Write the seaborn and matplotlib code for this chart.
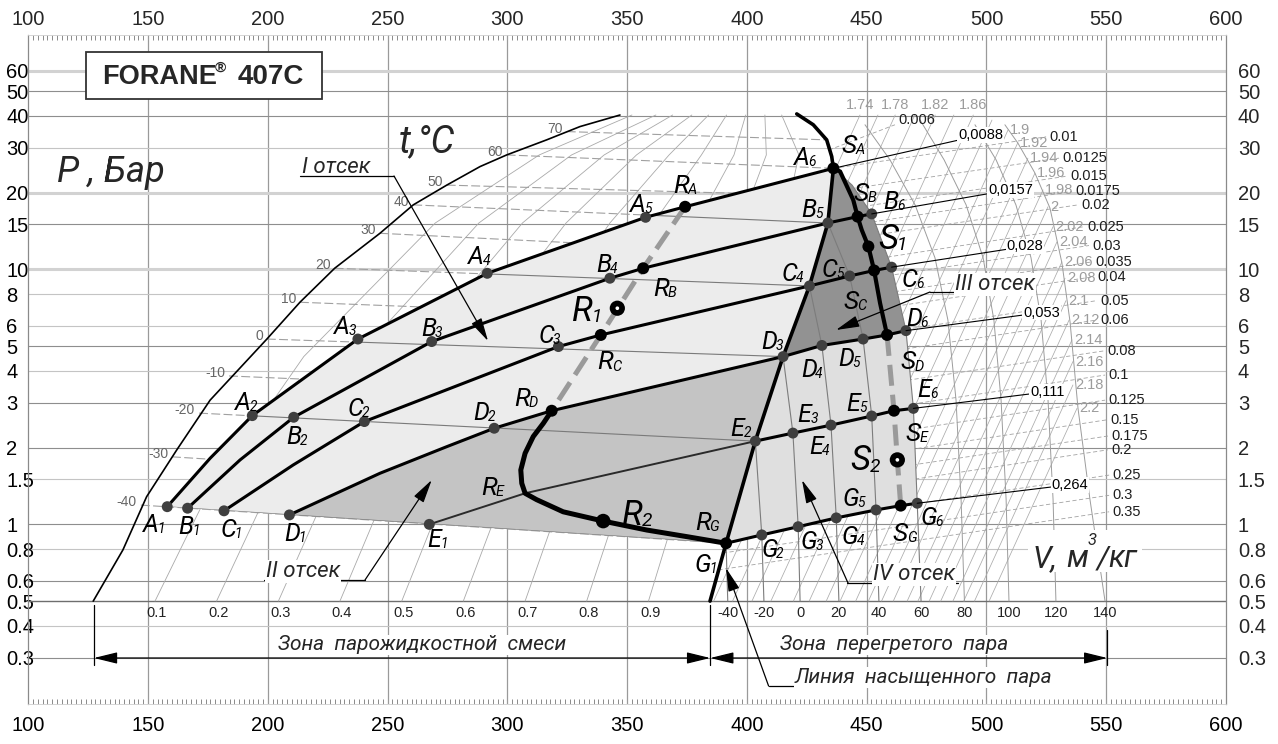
import matplotlib
matplotlib.use("Agg")
import matplotlib.pyplot as plt
import matplotlib.font_manager as fm
from matplotlib.font_manager import FontProperties
from matplotlib.lines import Line2D
from matplotlib.patches import Rectangle
from matplotlib.ticker import MultipleLocator, NullLocator
import seaborn as sns

# ---------------- data: enthalpy h (kJ/kg) and pressure P (bar) ----------------
P_TICKS = [0.3, 0.4, 0.5, 0.6, 0.8, 1, 1.5, 2, 3, 4, 5, 6, 8, 10, 15, 20, 30, 40, 50, 60]
P_TICK_LABELS = ["0.3", "0.4", "0.5", "0.6", "0.8", "1", "1.5", "2", "3", "4", "5", "6", "8",
                 "10", "15", "20", "30", "40", "50", "60"]
H_TICKS = [100, 150, 200, 250, 300, 350, 400, 450, 500, 550, 600]

# saturated liquid / saturated vapour lines
LIQ_H = [127.1, 139.5, 149.4, 162.0, 175.9, 199.6, 213.4, 227.9, 246.8, 260.7, 274.7, 288.6,
         299.7, 316.4, 330.3, 347.0]
LIQ_P = [0.5, 0.794, 1.284, 1.96, 3.07, 5.33, 7.43, 10.1, 13.85, 17.9, 21.4, 25.3, 28.1, 32.2,
         36.3, 40.3]
VAP_H = [384.6, 391.3, 403.5, 415.1, 426.1, 433.8, 436.1, 435.4, 433.3, 427.7, 420.8]
VAP_P = [0.5, 0.843, 2.12, 4.55, 8.61, 15.2, 24.9, 27.7, 32.2, 36.9, 40.7]

# working lines A..G
A_H = [158.0, 175.9, 193.5, 237.6, 291.6, 357.7, 374.2, 436.1]
A_P = [1.173, 1.816, 2.669, 5.33, 9.65, 16.0, 17.6, 24.9]
B_H = [166.5, 188.4, 210.8, 268.4, 342.8, 356.7, 433.8, 446.2, 452.1]
B_P = [1.157, 1.789, 2.63, 5.21, 9.23, 10.1, 15.2, 16.1, 16.5]
C_H = [181.7, 210.6, 240.3, 321.3, 339.0, 426.1, 442.9, 453.1, 460.4]
C_P = [1.13, 1.71, 2.53, 4.98, 5.53, 8.61, 9.42, 9.90, 10.2]
D_H = [209.0, 246.8, 274.7, 294.5, 318.5, 415.1, 431.3, 448.5, 458.5, 466.4]
D_P = [1.089, 1.586, 2.017, 2.382, 2.79, 4.55, 5.03, 5.33, 5.53, 5.75]
E_H = [267.4, 307.4, 403.5, 419.2, 435.1, 452.1, 461.4, 469.5]
E_P = [1.0, 1.324, 2.12, 2.28, 2.45, 2.66, 2.79, 2.85]
G_H = [391.3, 406.2, 421.4, 437.3, 453.9, 464.2, 471.1]
G_P = [0.843, 0.909, 0.979, 1.06, 1.139, 1.184, 1.21]

# R and S process paths
R_DASH_H = [374.2, 356.7, 339.0, 318.5]
R_DASH_P = [17.6, 10.1, 5.53, 2.79]
R_LINE_H = [318.5, 315.0, 310.8, 307.4, 305.6, 306.0, 307.4, 312.2, 323.3, 340.0, 358.2, 374.9, 391.3]
R_LINE_P = [2.79, 2.49, 2.21, 1.90, 1.634, 1.449, 1.324, 1.25, 1.12, 1.03, 0.95, 0.895, 0.843]
S_LINE_H = [436.1, 438.9, 444.4, 446.2, 447.9, 450.7, 453.1, 455.6, 458.5]
S_LINE_P = [24.9, 24.2, 18.7, 16.1, 14.3, 12.3, 9.90, 7.36, 5.53]
S_DASH_H = [458.5, 461.4, 462.8, 464.2]
S_DASH_P = [5.53, 2.79, 1.79, 1.184]
R1 = (345.9, 7.04)
R2 = (340.0, 1.03)
S2 = (462.8, 1.79)

# isotherms in the two-phase zone (liquid end -> vapour end)
WET_T = [-40, -30, -20, -10, 0, 10, 20, 30, 40, 50, 60, 70]
WET_LIQ_H = [147.0, 160.0, 171.3, 183.8, 199.6, 213.4, 227.9, 246.8, 260.7, 274.7, 299.7, 324.8]
WET_LIQ_P = [1.19, 1.84, 2.73, 3.82, 5.33, 7.43, 10.1, 13.85, 17.9, 21.4, 28.1, 34.7]
WET_VAP_H = [391.3, 397.5, 403.5, 409.5, 415.1, 420.5, 426.1, 430.0, 433.8, 435.0, 436.1, 433.3]
WET_VAP_P = [0.843, 1.33, 2.12, 3.09, 4.55, 6.25, 8.61, 11.4, 15.2, 19.4, 24.9, 32.2]

# isotherms in the superheated zone
T_M40_H = [391.3, 392.0]
T_M40_P = [0.843, 0.5]
T_M20_H = [403.5, 406.2, 407.1]
T_M20_P = [2.12, 0.909, 0.5]
T_0_H = [415.1, 419.2, 421.4, 422.2]
T_0_P = [4.55, 2.28, 0.979, 0.5]
T_20_H = [426.1, 431.3, 435.1, 437.3, 438.4]
T_20_P = [8.61, 5.03, 2.45, 1.06, 0.5]
T_40_H = [433.8, 442.9, 448.5, 452.1, 453.9, 455.1]
T_40_P = [15.2, 9.42, 5.33, 2.66, 1.139, 0.5]
T_60_H = [436.1, 443.9, 452.1, 460.4, 466.4, 469.5, 471.1, 472.7]
T_60_P = [24.9, 21.4, 16.5, 10.2, 5.75, 2.85, 1.21, 0.5]
T_80_H = [490.8, 489.4, 487.3, 483.9, 478.5, 470.2, 459.7, 449.3]
T_80_P = [0.5, 1.254, 3.07, 6.33, 11.1, 17.9, 26.9, 36.9]
T_100_H = [509.4, 508.2, 506.1, 503.1, 498.6, 491.5, 482.3, 472.3]
T_100_P = [0.5, 1.254, 3.07, 6.33, 11.1, 17.9, 26.9, 38.5]
T_120_H = [529.0, 527.8, 525.7, 522.8, 518.6, 512.3, 504.0, 495.2]
T_120_P = [0.5, 1.254, 3.07, 6.33, 11.1, 17.9, 26.9, 36.9]
T_140_H = [549.5, 543.2, 538.2, 534.9, 531.5, 526.5, 520.2, 513.1, 507.7]
T_140_P = [0.5, 1.254, 2.86, 6.22, 10.6, 17.4, 23.9, 31.3, 36.9]

# vapour quality lines, h read at six pressure levels
QUALITY = ["0.1", "0.2", "0.3", "0.4", "0.5", "0.6", "0.7", "0.8", "0.9"]
Q_P = [0.5, 1.28, 4.55, 15.2, 28.1, 40.3]
Q_H_05 = [152.9, 178.6, 204.4, 230.1, 255.9, 281.6, 307.4, 333.1, 358.9]
Q_H_128 = [174.2, 198.9, 223.7, 248.4, 273.2, 298.0, 322.7, 347.5, 372.2]
Q_H_455 = [215.0, 237.3, 259.5, 281.7, 304.0, 326.2, 348.4, 370.6, 392.9]
Q_H_152 = [269.9, 288.1, 306.3, 324.5, 342.8, 361.0, 379.2, 397.4, 415.6]
Q_H_281 = [313.3, 326.8, 340.4, 353.9, 367.5, 381.0, 394.6, 408.1, 421.7]
Q_H_403 = [352.0, 362.0, 369.0, 377.0, 384.0, 391.5, 399.5, 407.5, 414.5]

# entropy lines (kJ/kg K), lower and upper ends
S_TXT = ["1.74", "", "1.78", "", "1.82", "", "1.86", "", "1.9", "1.92", "1.94", "1.96", "1.98",
         "2", "2.02", "2.04", "2.06", "2.08", "2.1", "2.12", "2.14", "2.16", "2.18", "2.2"]
S_LO_H = [435.8, 433.0, 413.1, 395.4, 386.1, 394.0, 402.1, 410.0, 419.4, 426.0, 433.1, 438.9,
          445.4, 450.7, 456.2, 461.1, 466.9, 471.4, 476.1, 480.9, 486.0, 490.5, 495.0, 501.1]
S_LO_P = [23.4, 14.3, 3.96, 1.16, 0.5, 0.5, 0.5, 0.5, 0.5, 0.5, 0.5, 0.5,
          0.5, 0.5, 0.5, 0.5, 0.5, 0.5, 0.5, 0.5, 0.5, 0.5, 0.5, 0.5]
S_HI_H = [447.2, 454.7, 461.9, 470.1, 478.6, 486.4, 494.5, 502.3, 509.0, 513.1, 517.3, 520.2,
          523.6, 525.7, 527.8, 529.4, 531.5, 532.8, 533.2, 534.5, 535.7, 536.1, 536.1, 537.8]
S_HI_P = [40.3, 40.3, 40.3, 40.3, 40.3, 40.3, 40.3, 38.5, 35.2, 31.4, 27.3, 23.8,
          20.5, 17.6, 14.7, 12.8, 10.7, 9.23, 7.54, 6.33, 5.29, 4.35, 3.52, 2.85]

# specific volume lines (m3/kg) in the superheated zone
V_TXT = ["0.006", "0.01", "0.0125", "0.015", "0.0175", "0.02", "0.025", "0.03", "0.035", "0.04",
         "0.05", "0.06", "0.08", "0.1", "0.125", "0.15", "0.175", "0.2", "0.25", "0.3", "0.35"]
V_LO_H = [434.3, 436.1, 435.5, 434.9, 433.2, 431.3, 428.4, 425.9, 423.2, 420.9, 416.9, 414.0,
          409.4, 405.7, 402.3, 399.6, 397.6, 395.9, 392.6, 390.0, 388.1]
V_LO_P = [29.4, 24.9, 20.2, 16.9, 14.4, 12.7, 10.1, 8.49, 7.21, 6.28, 4.96, 4.11, 3.05, 2.41,
          1.90, 1.57, 1.36, 1.18, 0.939, 0.772, 0.663]
V_HI_H = [461.8, 524.9, 530.3, 533.6, 535.7, 538.2, 540.7, 542.8, 544.1, 544.9, 546.1, 546.1,
          549.1, 549.5, 549.5, 550.3, 550.7, 550.7, 551.2, 551.2, 551.2]
V_HI_P = [36.9, 33.1, 27.3, 23.2, 20.2, 17.9, 14.7, 12.4, 10.7, 9.36, 7.54, 6.33, 4.79, 3.85,
          3.07, 2.57, 2.22, 1.96, 1.56, 1.30, 1.12]
V_LEADERS = ["0,0088", "0,0157", "0,028", "0,053", "0,111", "0,264"]

# ---------------- figure ----------------
W, H = 1278, 744
sns.set_theme(style="white")
plt.rcParams["font.family"] = ["Liberation Sans", "DejaVu Sans"]


def pick_hand_font():
    # a narrow italic sans for the hand-lettered labels
    fonts = fm.fontManager.ttflist
    for want in ("Liberation Sans Narrow", "Roboto", "Liberation Sans"):
        for f in fonts:
            if f.name == want and f.style == "italic" and f.weight in (400, "normal", "regular"):
                return FontProperties(fname=f.fname)
    return FontProperties(family="DejaVu Sans", style="italic")


HK = dict(fontproperties=pick_hand_font())

fig = plt.figure(figsize=(W / 100, H / 100), dpi=100)
ax = fig.add_axes([28.3 / W, 1 - 703.7 / H, (1226 - 28.3) / W, (703.7 - 35) / H])
ax.set_yscale("log")
ax.set_xlim(100, 600)
ax.set_ylim(0.198, 83)
ax.set_facecolor("white")


def ftext(x, y, s, **kw):
    kw.setdefault("zorder", 11)
    return fig.text(x / W, 1 - y / H, s, **kw)


def fline(x1, y1, x2, y2, lw=0.9):
    fig.add_artist(Line2D([x1 / W, x2 / W], [1 - y1 / H, 1 - y2 / H], transform=fig.transFigure,
                          color="black", lw=lw, zorder=11))


def farrow(x1, y1, x2, y2, style="-|>"):
    ax.annotate("", xy=(x2, H - y2), xytext=(x1, H - y1), xycoords="figure pixels",
                textcoords="figure pixels", zorder=11, annotation_clip=False,
                arrowprops=dict(arrowstyle=style + ",head_length=0.9,head_width=0.22",
                                mutation_scale=16, lw=0.9, color="black", shrinkA=0, shrinkB=0))


# grid
for v in H_TICKS[1:-1]:
    ax.axvline(v, color="#9a9a9a", lw=0.9, zorder=0.5)
for p in P_TICKS:
    if p in (60, 20, 10):
        ax.axhline(p, color="#d2d2d2", lw=2.2, zorder=0.5)
    elif p == 0.5:
        ax.axhline(p, color="#6e6e6e", lw=1.0, zorder=0.6)
    elif p in (30, 8, 6, 4, 1.5, 0.8, 0.4):
        ax.axhline(p, color="#c4c4c4", lw=0.8, zorder=0.5)
    else:
        ax.axhline(p, color="#8e8e8e", lw=0.8, zorder=0.5)

# ---------------- background mesh ----------------
q_levels = [Q_H_05, Q_H_128, Q_H_455, Q_H_152, Q_H_281, Q_H_403]
for i, q in enumerate(QUALITY):
    ax.plot([lvl[i] for lvl in q_levels], Q_P, color="#a9a9a9", lw=0.6, zorder=1)
    ax.annotate(q, (Q_H_05[i], 0.5), xytext=(2, -12), textcoords="offset pixels", ha="center",
                va="center", fontsize=10.5, color="#222222", zorder=8)

for i, s in enumerate(S_TXT):
    ax.plot([S_LO_H[i], S_HI_H[i]], [S_LO_P[i], S_HI_P[i]], color="#ababab", lw=0.55, zorder=1)
    if not s:
        continue
    if i < 8:
        ax.annotate(s, (S_HI_H[i], S_HI_P[i]), xytext=(0, 10), textcoords="offset pixels",
                    ha="center", va="center", fontsize=10.5, color="#9c9c9c", zorder=8)
    else:
        ax.annotate(s, (S_HI_H[i], S_HI_P[i]), xytext=(2, 0), textcoords="offset pixels",
                    ha="left", va="center", fontsize=10.5, color="#9c9c9c", zorder=8)

for i, v in enumerate(V_TXT):
    ln, = ax.plot([V_LO_H[i], V_HI_H[i]], [V_LO_P[i], V_HI_P[i]], color="#a2a2a2", lw=0.6, zorder=1)
    ln.set_dashes((5, 3))
    off = (3, 5) if i == 0 else (3, 0)
    ax.annotate(v, (V_HI_H[i], V_HI_P[i]), xytext=off, textcoords="offset pixels", ha="left",
                va="center", fontsize=10.5, color="#1e1e1e", zorder=8)

for th, tp in [(T_80_H, T_80_P), (T_100_H, T_100_P), (T_120_H, T_120_P), (T_140_H, T_140_P)]:
    ax.plot(th, tp, color="#9c9c9c", lw=0.7, zorder=1)

for i, t in enumerate(WET_T):
    ln, = ax.plot([WET_LIQ_H[i], WET_VAP_H[i]], [WET_LIQ_P[i], WET_VAP_P[i]], color="#a0a0a0",
                  lw=0.8, zorder=1)
    ln.set_dashes((8, 3))
    ax.annotate(str(t), (WET_LIQ_H[i], WET_LIQ_P[i]), xytext=(-4, 3), textcoords="offset pixels",
                ha="right", va="center", fontsize=10, color="#666666", zorder=8)

# ---------------- compartments ----------------
reg1_h = A_H + [VAP_H[5], VAP_H[4]] + D_H[5::-1]
reg1_p = A_P + [VAP_P[5], VAP_P[4]] + D_P[5::-1]
reg2_h = D_H[0:6] + [VAP_H[2], VAP_H[1]]
reg2_p = D_P[0:6] + [VAP_P[2], VAP_P[1]]
reg3_h = [VAP_H[6], VAP_H[5], VAP_H[4], VAP_H[3]] + D_H[6:10] + T_60_H[3::-1]
reg3_p = [VAP_P[6], VAP_P[5], VAP_P[4], VAP_P[3]] + D_P[6:10] + T_60_P[3::-1]
reg4_h = [VAP_H[3], VAP_H[2], VAP_H[1]] + G_H[1:7] + [T_60_H[5], T_60_H[4]] + D_H[8:5:-1]
reg4_p = [VAP_P[3], VAP_P[2], VAP_P[1]] + G_P[1:7] + [T_60_P[5], T_60_P[4]] + D_P[8:5:-1]

patch1 = ax.fill(reg1_h, reg1_p, color="#ececec", lw=0, zorder=2)[0]
patch2 = ax.fill(reg2_h, reg2_p, color="#c4c4c4", lw=0, zorder=2)[0]
ax.fill(reg3_h, reg3_p, color="#929292", lw=0, zorder=2)
ax.fill(reg4_h, reg4_p, color="#dfdfdf", lw=0, zorder=2)

# isotherms visible inside compartments I and II
for i, t in enumerate(WET_T):
    if t in (-40, -20, 0, 20, 40):
        for patch in (patch1, patch2):
            ln, = ax.plot([WET_LIQ_H[i], WET_VAP_H[i]], [WET_LIQ_P[i], WET_VAP_P[i]],
                          color="#7a7a7a", lw=0.8, zorder=3)
            ln.set_clip_path(patch)

vap_isos = [("-40", T_M40_H, T_M40_P), ("-20", T_M20_H, T_M20_P), ("0", T_0_H, T_0_P),
            ("20", T_20_H, T_20_P), ("40", T_40_H, T_40_P), ("60", T_60_H, T_60_P),
            ("80", T_80_H, T_80_P), ("100", T_100_H, T_100_P), ("120", T_120_H, T_120_P),
            ("140", T_140_H, T_140_P)]
for lab, th, tp in vap_isos:
    if lab in ("-40", "-20", "0", "20", "40", "60"):
        ax.plot(th, tp, color="#7c7c7c", lw=0.8, zorder=3)
    k = tp.index(0.5)
    ax.annotate(lab, (th[k], tp[k]), xytext=(0, -12), textcoords="offset pixels", ha="center",
                va="center", fontsize=10.5, color="#222222", zorder=8)

# ---------------- main lines ----------------
sns.lineplot(x=LIQ_H, y=LIQ_P, sort=False, estimator=None, color="black", lw=1.2, ax=ax, zorder=4)
sns.lineplot(x=VAP_H, y=VAP_P, sort=False, estimator=None, color="black", lw=2.6, ax=ax, zorder=4)
for ch, cp in [(A_H, A_P), (B_H, B_P), (C_H, C_P), (D_H, D_P), (G_H, G_P)]:
    sns.lineplot(x=ch, y=cp, sort=False, estimator=None, color="black", lw=2.2, ax=ax, zorder=4)
ax.plot(E_H[0:3], E_P[0:3], color="#2a2a2a", lw=1.4, zorder=4)
ax.plot(E_H[2:], E_P[2:], color="black", lw=2.2, zorder=4)
sns.lineplot(x=R_LINE_H, y=R_LINE_P, sort=False, estimator=None, color="black", lw=3.6, ax=ax,
             zorder=4)
sns.lineplot(x=S_LINE_H, y=S_LINE_P, sort=False, estimator=None, color="black", lw=3.0, ax=ax,
             zorder=4)
for dh, dp in [(R_DASH_H, R_DASH_P), (S_DASH_H, S_DASH_P)]:
    ln, = ax.plot(dh, dp, color="#9a9a9a", lw=3.6, zorder=4.5, solid_capstyle="butt")
    ln.set_dashes((4.2, 1.8))
    ln.set_dash_capstyle("butt")

# leader lines with the specific volume of each working line
ends = [(A_H[7], A_P[7], 488.1, 33.6), (B_H[8], B_P[8], 500.6, 20.5), (C_H[8], C_P[8], 508.5, 12.3),
        (D_H[9], D_P[9], 515.4, 6.77), (E_H[7], E_P[7], 518.2, 3.31), (G_H[6], G_P[6], 527.2, 1.43)]
for txt, (h0, p0, h1, p1) in zip(V_LEADERS, ends):
    ax.annotate(txt, (h0, p0), xytext=(h1, p1), ha="left", va="center", fontsize=10.5,
                color="black", zorder=8,
                bbox=dict(facecolor="white", edgecolor="none", pad=0.6),
                arrowprops=dict(arrowstyle="-", lw=0.8, color="black", shrinkA=0, shrinkB=0))

# ---------------- points ----------------
gray_idx = [(A_H, A_P, [0, 2, 3, 4, 5]), (B_H, B_P, [0, 2, 3, 4, 6, 8]),
            (C_H, C_P, [0, 2, 3, 5, 6, 8]), (D_H, D_P, [0, 3, 5, 6, 7, 9]),
            (E_H, E_P, [0, 2, 3, 4, 5, 7]), (G_H, G_P, [1, 2, 3, 4, 6])]
black_idx = [(A_H, A_P, [6, 7]), (B_H, B_P, [5, 7]), (C_H, C_P, [4, 7]), (D_H, D_P, [4, 8]),
             (E_H, E_P, [6]), (G_H, G_P, [0, 5]), (S_LINE_H, S_LINE_P, [5])]
gx = [h[i] for h, p, ids in gray_idx for i in ids]
gy = [p[i] for h, p, ids in gray_idx for i in ids]
bx = [h[i] for h, p, ids in black_idx for i in ids]
by = [p[i] for h, p, ids in black_idx for i in ids]
sns.scatterplot(x=gx, y=gy, color="#3f3f3f", s=62, edgecolor="none", ax=ax, zorder=6)
sns.scatterplot(x=bx, y=by, color="black", s=74, edgecolor="none", ax=ax, zorder=6)
sns.scatterplot(x=[R2[0]], y=[R2[1]], color="black", s=110, edgecolor="none", ax=ax, zorder=6)
sns.scatterplot(x=[R1[0], S2[0]], y=[R1[1], S2[1]], color="black", s=120, edgecolor="none",
                ax=ax, zorder=6)
sns.scatterplot(x=[R1[0], S2[0]], y=[R1[1], S2[1]], color="white", s=7, edgecolor="none",
                ax=ax, zorder=6.5)


def tag(h, p, letter, sub, dx, dy, size=15):
    em = size * 1.389
    x0 = dx - 0.16 * em
    y0 = dy - 0.36 * em
    ax.annotate(letter, (h, p), xytext=(x0, y0), textcoords="offset pixels", ha="center",
                va="baseline", fontsize=size, color="black", zorder=9, **HK)
    ax.annotate(sub, (h, p), xytext=(x0 + 0.25 * em, y0 - 0.04 * em), textcoords="offset pixels",
                ha="left", va="baseline", fontsize=size * 0.55, color="black", zorder=9, **HK)


RS = 19
LS = 18
BIG = 25
labels = [
    (A_H[0], A_P[0], "A", "1", -12, -16, LS), (A_H[2], A_P[2], "A", "2", -5, 15, LS),
    (A_H[3], A_P[3], "A", "3", -12, 14, LS), (A_H[4], A_P[4], "A", "4", -7, 18, LS),
    (A_H[5], A_P[5], "A", "5", -4, 14, LS), (A_H[6], A_P[6], "R", "A", 0, 23, RS),
    (A_H[7], A_P[7], "A", "6", -27, 12, LS), (A_H[7], A_P[7], "S", "A", 20, 25, RS),
    (B_H[0], B_P[0], "B", "1", 2, -17, LS), (B_H[2], B_P[2], "B", "2", 4, -18, LS),
    (B_H[3], B_P[3], "B", "3", 1, 15, LS), (B_H[4], B_P[4], "B", "4", -2, 15, LS),
    (B_H[5], B_P[5], "R", "B", 22, -18, RS), (B_H[6], B_P[6], "B", "5", -15, 15, LS),
    (B_H[7], B_P[7], "S", "B", 8, 25, RS), (B_H[8], B_P[8], "B", "6", 23, 14, LS),
    (C_H[0], C_P[0], "C", "1", 8, -17, LS), (C_H[2], C_P[2], "C", "2", -5, 15, LS),
    (C_H[3], C_P[3], "C", "3", -8, 13, LS), (C_H[4], C_P[4], "R", "C", 9, -25, RS),
    (C_H[5], C_P[5], "C", "4", -16, 14, LS), (C_H[6], C_P[6], "C", "5", -16, 8, LS),
    (C_H[7], C_P[7], "S", "C", -19, -29, RS), (C_H[8], C_P[8], "C", "6", 22, -11, LS),
    (D_H[0], D_P[0], "D", "1", 7, -17, LS), (D_H[3], D_P[3], "D", "2", -9, 17, LS),
    (D_H[4], D_P[4], "R", "D", -25, 14, RS), (D_H[5], D_P[5], "D", "3", -10, 17, LS),
    (D_H[6], D_P[6], "D", "4", -9, -23, LS), (D_H[7], D_P[7], "D", "5", -13, -18, LS),
    (D_H[8], D_P[8], "S", "D", 25, -25, RS), (D_H[9], D_P[9], "D", "6", 12, 14, LS),
    (E_H[0], E_P[0], "E", "1", 9, -14, LS), (E_H[1], E_P[1], "R", "E", -32, 8, RS),
    (E_H[2], E_P[2], "E", "2", -14, 14, LS), (E_H[3], E_P[3], "E", "3", 15, 20, LS),
    (E_H[4], E_P[4], "E", "4", -11, -20, LS), (E_H[5], E_P[5], "E", "5", -15, 14, LS),
    (E_H[6], E_P[6], "S", "E", 23, -21, RS), (E_H[7], E_P[7], "E", "6", 15, 20, LS),
    (G_H[0], G_P[0], "R", "G", -19, 23, RS), (G_H[0], G_P[0], "G", "1", -19, -20, LS),
    (G_H[1], G_P[1], "G", "2", 12, -13, LS), (G_H[2], G_P[2], "G", "3", 15, -13, LS),
    (G_H[3], G_P[3], "G", "4", 18, -17, LS), (G_H[4], G_P[4], "G", "5", -21, 13, LS),
    (G_H[5], G_P[5], "S", "G", 4, -26, RS), (G_H[6], G_P[6], "G", "6", 16, -13, LS),
    (S_LINE_H[5], S_LINE_P[5], "S", "1", 25, 10, BIG), (S2[0], S2[1], "S", "2", -31, 2, BIG),
    (R1[0], R1[1], "R", "1", -29, 0, BIG), (R2[0], R2[1], "R", "2", 35, 9, BIG),
]
for h, p, letter, sub, dx, dy, size in labels:
    tag(h, p, letter, sub, dx, dy, size)

# ---------------- axes, ticks ----------------
ax.set_xticks(H_TICKS)
ax.xaxis.set_minor_locator(MultipleLocator(2))
ax.set_yticks(P_TICKS)
ax.set_yticklabels(P_TICK_LABELS, ha="left")
ax.yaxis.set_minor_locator(NullLocator())
ax.tick_params(axis="both", which="major", length=0, labelsize=14.5, labelcolor="black")
ax.tick_params(axis="x", which="major", pad=9)
ax.tick_params(axis="y", which="major", pad=16)
ax.tick_params(axis="x", which="minor", direction="in", length=3.5, width=0.6, color="#777777",
               top=True, bottom=True)
for side in ("left", "right"):
    ax.spines[side].set_color("#8a8a8a")
    ax.spines[side].set_linewidth(0.9)
for side in ("top", "bottom"):
    ax.spines[side].set_color("#cfcfcf")
    ax.spines[side].set_linewidth(0.6)

top = ax.secondary_xaxis("top")
top.set_xticks(H_TICKS)
top.tick_params(length=0, labelsize=14.5, pad=4)
right = ax.secondary_yaxis("right")
right.set_yticks(P_TICKS)
right.set_yticklabels(P_TICK_LABELS)
right.yaxis.set_minor_locator(NullLocator())
right.tick_params(length=0, labelsize=14.5, pad=8.6)
for sec in (top, right):
    for sp in sec.spines.values():
        sp.set_visible(False)

# ---------------- annotations ----------------
fig.add_artist(Rectangle((85.7 / W, 1 - 99.3 / H), (322.4 - 85.7) / W, (99.3 - 51.7) / H,
                         transform=fig.transFigure, facecolor="white", edgecolor="#333333",
                         lw=1.3, zorder=10))
ftext(102, 84, "FORANE", ha="left", va="baseline", fontsize=19.5, fontweight="bold")
ftext(215, 72, "®", ha="left", va="baseline", fontsize=11, fontweight="bold")
ftext(238, 84, "407C", ha="left", va="baseline", fontsize=20, fontweight="bold")

ftext(57, 182, "P , Бар", ha="left", va="baseline", fontsize=26, **HK)
ftext(399, 152, "t,°C", ha="left", va="baseline", fontsize=27, **HK)

bb = dict(facecolor="white", edgecolor="none", pad=0.5)
ftext(302, 173, "I отсек", ha="left", va="baseline", fontsize=16, **HK)
fline(300, 176, 394, 176)
farrow(394, 176, 488, 341)
ftext(266, 577, "II отсек", ha="left", va="baseline", fontsize=16, bbox=bb, **HK)
fline(264, 580, 365, 580)
farrow(365, 580, 431.7, 480)
ftext(955, 290, "III отсек", ha="left", va="baseline", fontsize=16, bbox=bb, **HK)
fline(930, 292, 1034, 292)
farrow(930, 292, 836, 330)
ftext(873, 580, "IV отсек", ha="left", va="baseline", fontsize=16, bbox=bb, **HK)
fline(847, 583, 958, 583)
farrow(848, 583, 802, 480)
ftext(795, 683, "Линия  насыщенного  пара", ha="left", va="baseline", fontsize=15, bbox=bb, **HK)
fline(768.6, 686, 1047, 686)
farrow(768.6, 686, 726, 568)

ftext(277.6, 650.5, "Зона  парожидкостной  смеси", ha="left", va="baseline", fontsize=15,
      bbox=bb, **HK)
ftext(780.4, 650.5, "Зона  перегретого  пара", ha="left", va="baseline", fontsize=15, bbox=bb, **HK)
fline(93.9, 605, 93.9, 665.3)
fline(710.2, 605, 710.2, 665.3)
fline(1107.3, 630, 1107.3, 665.3)
farrow(93.9, 658, 710.2, 658, style="<|-|>")
farrow(710.2, 658, 1107.3, 658, style="<|-|>")

fig.add_artist(Rectangle((1028 / W, 1 - 572 / H), 114 / W, 42 / H, transform=fig.transFigure,
                         facecolor="white", edgecolor="none", zorder=10))
ftext(1033, 567, "V,", ha="left", va="baseline", fontsize=22, **HK)
ftext(1066, 567, "м", ha="left", va="baseline", fontsize=22, **HK)
ftext(1088, 545, "3", ha="left", va="baseline", fontsize=12, **HK)
ftext(1097, 567, "/", ha="left", va="baseline", fontsize=22, **HK)
ftext(1108, 567, "кг", ha="left", va="baseline", fontsize=22, **HK)

fig.savefig("out.png", dpi=100)
